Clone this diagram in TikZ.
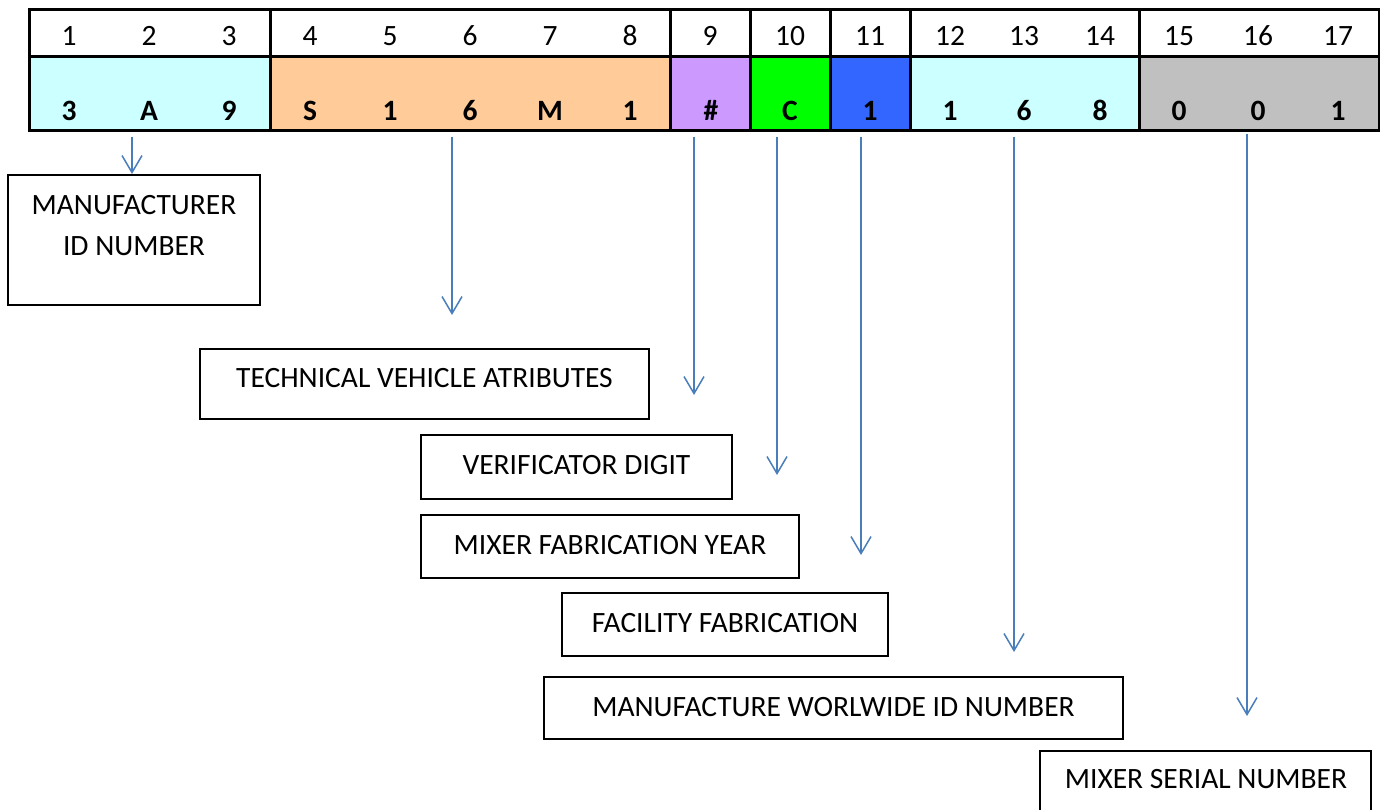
\documentclass[tikz,border=0pt]{standalone}
\usepackage{fontspec}
\setmainfont{Carlito}
\usetikzlibrary{arrows.meta}
\definecolor{cyanbg}{HTML}{CCFFFF}
\definecolor{orangebg}{HTML}{FFCC99}
\definecolor{purplebg}{HTML}{CC99FF}
\definecolor{greenbg}{HTML}{00FF00}
\definecolor{bluebg}{HTML}{3366FF}
\definecolor{graybg}{HTML}{C0C0C0}
\definecolor{arrowblue}{HTML}{4A7EBB}
\begin{document}
\begin{tikzpicture}[x=1pt,y=-1pt,
  tbl/.style={line width=3pt,black},
  hd/.style={anchor=base,inner sep=0pt,font=\fontsize{29.5}{35}\selectfont},
  val/.style={anchor=base,inner sep=0pt,font=\fontsize{29.5}{35}\selectfont\bfseries},
  labelbox/.style={draw,line width=1.8pt,anchor=north west,inner sep=0pt,outer sep=0pt},
  lbl/.style={anchor=base,inner sep=0pt,font=\fontsize{29.5}{35}\selectfont},
  pointer/.style={draw=arrowblue,line width=1.5pt,-{Straight Barb[length=17pt,width=20pt,line width=1.5pt]}}]
\useasboundingbox (0,0) rectangle (1380,809);
\fill[white] (0,0) rectangle (1380,809);
% table fills
\fill[cyanbg] (29,56) rectangle (270,130);
\fill[orangebg] (270,56) rectangle (670,130);
\fill[purplebg] (670,56) rectangle (750,130);
\fill[greenbg] (750,56) rectangle (830,130);
\fill[bluebg] (830,56) rectangle (910,130);
\fill[cyanbg] (910,56) rectangle (1139,130);
\fill[graybg] (1139,56) rectangle (1379,130);
% table grid
\draw[tbl] (29,9) rectangle (1379,130);
\draw[tbl] (29,56) -- (1379,56);
\foreach \x in {270,670,750,830,910,1139} \draw[tbl] (\x,9) -- (\x,130);
% header numbers
\foreach \n/\x in {1/69,2/149,3/229,4/310,5/390,6/470,7/550,8/630,9/710,10/790,11/870,12/950,13/1024,14/1100,15/1179,16/1258,17/1338}
  \node[hd] (h\n) at (\x,45) {\n};
% values
\foreach \n/\x/\v in {1/69/3,2/149/A,3/229/9,4/310/S,5/390/1,6/470/6,7/550/M,8/630/1,9/711/\#,10/790/C,11/870/1,12/950/1,13/1024/6,14/1100/8,15/1179/0,16/1258/0,17/1338/1}
  \node[val] (v\n) at (\x,120) {\v};
% boxes
\node[labelbox,minimum width=252pt,minimum height=130pt] (bA) at (8,175) {};
\node[labelbox,minimum width=449pt,minimum height=70pt] (bB) at (200,349) {};
\node[labelbox,minimum width=311pt,minimum height=64pt] (bC) at (421,435) {};
\node[labelbox,minimum width=378pt,minimum height=63pt] (bD) at (421,515) {};
\node[labelbox,minimum width=326pt,minimum height=63pt] (bE) at (562,593) {};
\node[labelbox,minimum width=579pt,minimum height=62pt] (bF) at (544,677) {};
\node[labelbox,minimum width=331pt,minimum height=90pt] (bG) at (1040,751) {};
% labels
\node[lbl] (tA1) at (134,214) {MANUFACTURER};
\node[lbl] (tA2) at (134,255) {ID NUMBER};
\node[lbl] (tB) at (424.5,387) {TECHNICAL VEHICLE ATRIBUTES};
\node[lbl] (tC) at (576.5,474) {VERIFICATOR DIGIT};
\node[lbl] (tD) at (610,554) {MIXER FABRICATION YEAR};
\node[lbl] (tE) at (725,632) {FACILITY FABRICATION};
\node[lbl] (tF) at (833.5,716) {MANUFACTURE WORLWIDE ID NUMBER};
\node[lbl] (tG) at (1206,788) {MIXER SERIAL NUMBER};
% arrow endpoints
\coordinate (s1) at (132,137); \coordinate (e1) at (132,174);
\coordinate (s2) at (452,137); \coordinate (e2) at (452,315);
\coordinate (s3) at (694,137); \coordinate (e3) at (694,395);
\coordinate (s4) at (777,137); \coordinate (e4) at (777,475);
\coordinate (s5) at (861,137); \coordinate (e5) at (861,555);
\coordinate (s6) at (1014,137); \coordinate (e6) at (1014,652);
\coordinate (s7) at (1247,134); \coordinate (e7) at (1247,716);
\foreach \i in {1,...,7} \draw[pointer] (s\i) -- (e\i);
\end{tikzpicture}
\end{document}
